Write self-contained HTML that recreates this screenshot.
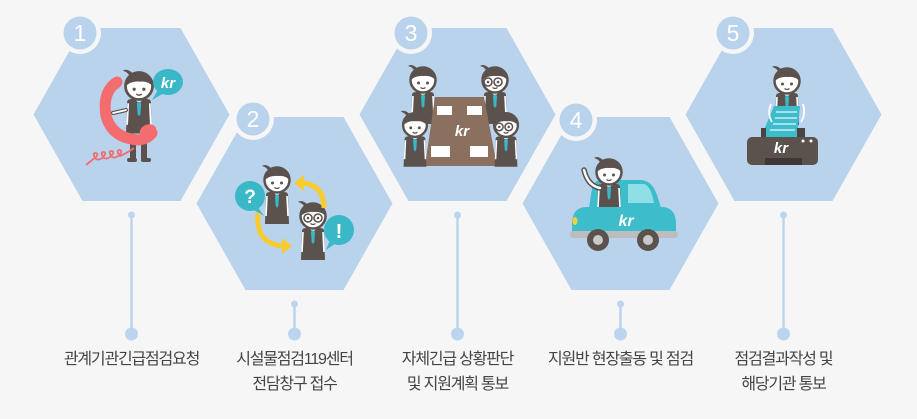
<!DOCTYPE html>
<html><head><meta charset="utf-8">
<style>
html,body{margin:0;padding:0;background:#f6f6f6;}
svg{display:block;}
.lbl{font-family:"Liberation Sans","Noto Sans CJK KR",sans-serif;font-size:16px;fill:#444444;letter-spacing:-1.2px;}
.num{font-family:"Liberation Sans","DejaVu Sans",sans-serif;font-size:23px;fill:#ffffff;}
.kr{font-family:"Liberation Sans",sans-serif;font-weight:bold;font-style:italic;fill:#ffffff;}
</style></head>
<body>
<svg width="917" height="419" viewBox="0 0 917 419" xmlns="http://www.w3.org/2000/svg">
<defs>
  <g id="person">
    <path d="M-11,15 Q-11,12 -7,12 L7,12 Q11,12 11,15 L12,44 L-12,44 Z" fill="#5b524e"/>
    <path d="M-10,16 L-11,36" stroke="#fff" stroke-width="1.6" fill="none"/>
    <path d="M10,16 L11,36" stroke="#fff" stroke-width="1.6" fill="none"/>
    <path d="M-4,12 L0,16 L4,12 Z" fill="#fff"/>
    <path d="M0,14 L-2,16 L-1.3,26 L0,28 L1.3,26 L2,16 Z" fill="#3bb8c8"/>
    <circle cx="0" cy="0" r="12.5" fill="#fff" stroke="#5b524e" stroke-width="2.5"/>
    <path d="M-13,1 A13,13 0 0 1 13,1 Q9,-5 1,-4 Q-8,-5 -13,1 Z" fill="#5b524e"/>
    <path d="M-5,-11 Q-11,-17 -15,-14 Q-10,-13 -8,-8 Z" fill="#5b524e"/>
    <circle cx="-4.5" cy="3" r="1.5" fill="#5b524e"/>
    <circle cx="4.5" cy="3" r="1.5" fill="#5b524e"/>
    <path d="M-2.5,7.5 Q0,9.5 2.5,7.5" stroke="#5b524e" stroke-width="1.3" fill="none"/>
  </g>
  <g id="glasses">
    <circle cx="-5" cy="2" r="4" fill="#fff" stroke="#5b524e" stroke-width="1.6"/>
    <circle cx="5" cy="2" r="4" fill="#fff" stroke="#5b524e" stroke-width="1.6"/>
    <circle cx="-5" cy="2" r="1.3" fill="#5b524e"/>
    <circle cx="5" cy="2" r="1.3" fill="#5b524e"/>
  </g>
</defs>

<!-- hexagons -->
<g fill="#b9d3ec">
  <polygon points="33.5,114.5 82.5,28 180.5,28 229.5,114.5 180.5,201 82.5,201"/>
  <polygon points="196.5,203.5 245.5,117 343.5,117 392.5,203.5 343.5,290 245.5,290"/>
  <polygon points="359.5,114.5 408.5,28 506.5,28 555.5,114.5 506.5,201 408.5,201"/>
  <polygon points="522.5,203.5 571.5,117 669.5,117 718.5,203.5 669.5,290 571.5,290"/>
  <polygon points="685.5,114.5 734.5,28 832.5,28 881.5,114.5 832.5,201 734.5,201"/>
</g>

<!-- number badges -->
<g>
  <circle cx="80" cy="33" r="21" fill="#f6f6f6"/><circle cx="80" cy="33" r="16.5" fill="#b9d3ec"/>
  <text class="num" x="80" y="41" text-anchor="middle">1</text>
  <circle cx="253" cy="119" r="21" fill="#f6f6f6"/><circle cx="253" cy="119" r="16.5" fill="#b9d3ec"/>
  <text class="num" x="253" y="127" text-anchor="middle">2</text>
  <circle cx="411" cy="33" r="21" fill="#f6f6f6"/><circle cx="411" cy="33" r="16.5" fill="#b9d3ec"/>
  <text class="num" x="411" y="41" text-anchor="middle">3</text>
  <circle cx="576" cy="120" r="21" fill="#f6f6f6"/><circle cx="576" cy="120" r="16.5" fill="#b9d3ec"/>
  <text class="num" x="576" y="128" text-anchor="middle">4</text>
  <circle cx="733" cy="33" r="21" fill="#f6f6f6"/><circle cx="733" cy="33" r="16.5" fill="#b9d3ec"/>
  <text class="num" x="733" y="41" text-anchor="middle">5</text>
</g>

<!-- connectors -->
<g stroke="#bcd5ee" stroke-width="2.5" fill="#bcd5ee">
  <line x1="131.5" y1="215" x2="131.5" y2="334"/>
  <line x1="294.5" y1="304" x2="294.5" y2="334"/>
  <line x1="457.5" y1="215" x2="457.5" y2="334"/>
  <line x1="620.5" y1="304" x2="620.5" y2="334"/>
  <line x1="783.5" y1="215" x2="783.5" y2="334"/>
</g>
<g fill="#bcd5ee">
  <circle cx="131.5" cy="215" r="3.5"/><circle cx="131.5" cy="334" r="6.5"/>
  <circle cx="294.5" cy="304" r="3.5"/><circle cx="294.5" cy="334" r="6.5"/>
  <circle cx="457.5" cy="215" r="3.5"/><circle cx="457.5" cy="334" r="6.5"/>
  <circle cx="620.5" cy="304" r="3.5"/><circle cx="620.5" cy="334" r="6.5"/>
  <circle cx="783.5" cy="215" r="3.5"/><circle cx="783.5" cy="334" r="6.5"/>
</g>

<!-- labels -->
<text class="lbl" x="131.5" y="364" text-anchor="middle">관계기관긴급점검요청</text>
<text class="lbl" x="294.5" y="364" text-anchor="middle">시설물점검119센터</text>
<text class="lbl" x="294.5" y="389" text-anchor="middle">전담창구 접수</text>
<text class="lbl" x="457.5" y="364" text-anchor="middle">자체긴급 상황판단</text>
<text class="lbl" x="457.5" y="389" text-anchor="middle">및 지원계획 통보</text>
<text class="lbl" x="620.5" y="364" text-anchor="middle">지원반 현장출동 및 점검</text>
<text class="lbl" x="783.5" y="364" text-anchor="middle">점검결과작성 및</text>
<text class="lbl" x="783.5" y="389" text-anchor="middle">해당기관 통보</text>

<!-- HEX 1: phone -->
<g>
  <rect x="130" y="138" width="6" height="22" fill="#5b524e"/>
  <rect x="141" y="138" width="6" height="22" fill="#5b524e"/>
  <rect x="127" y="158" width="10" height="4" rx="2" fill="#5b524e"/>
  <rect x="141" y="158" width="10" height="4" rx="2" fill="#5b524e"/>
  <use href="#person" transform="translate(139,86) scale(1.08)"/>
  <path d="M126,110 Q118,112 113,113" stroke="#5b524e" stroke-width="4" fill="none" stroke-linecap="round"/>
  <path d="M126,110 Q118,112 113,113" stroke="#fff" stroke-width="1.8" fill="none" stroke-linecap="round"/>
  <path d="M117,82 Q102,92 106,116 Q112,138 138,140 Q148,139 152,133" stroke="#f26c70" stroke-width="11" fill="none" stroke-linecap="round"/>
  <ellipse cx="115" cy="84" rx="7" ry="5.5" fill="#f26c70" transform="rotate(-35 115 84)"/>
  <ellipse cx="148" cy="131" rx="8.5" ry="6.5" fill="#f26c70" transform="rotate(-20 148 131)"/>
  <path d="M86,165 Q92,160 96,157 q3,-4 -1,-4 q-3,1 1,6 q4,2 8,-3 q3,-4 -1,-4 q-3,1 1,6 q4,2 8,-3 q3,-4 -1,-4 q-3,1 1,6 q4,2 8,-3 q3,-4 -1,-4 q-3,1 1,6 Q127,153 134,148" stroke="#f26c70" stroke-width="1.8" fill="none"/>
  <ellipse cx="168" cy="82" rx="15" ry="13" fill="#3bb8c8"/>
  <path d="M158,90 L152,100 L164,93 Z" fill="#3bb8c8"/>
  <text class="kr" x="168" y="88" font-size="15" text-anchor="middle">kr</text>
</g>

<!-- HEX 2 -->
<g>
  <use href="#person" transform="translate(277,180)"/>
  <use href="#person" transform="translate(313,216)"/>
  <use href="#glasses" transform="translate(313,216)"/>
  <circle cx="250" cy="196" r="15" fill="#3bb8c8"/>
  <path d="M257,206 L264,216 L252,209 Z" fill="#3bb8c8"/>
  <text class="kr" x="250" y="203" font-size="19" style="font-style:normal" text-anchor="middle">?</text>
  <circle cx="339" cy="230" r="15" fill="#3bb8c8"/>
  <path d="M330,240 L326,250 L336,243 Z" fill="#3bb8c8"/>
  <text class="kr" x="339" y="238" font-size="20" style="font-style:normal" text-anchor="middle">!</text>
  <path d="M324,208 Q324,186 304,183" stroke="#f8cb2e" stroke-width="5" fill="none"/>
  <polygon points="294,183 304,175 304,191" fill="#f8cb2e"/>
  <path d="M258,213 Q255,243 282,246" stroke="#f8cb2e" stroke-width="5" fill="none"/>
  <polygon points="292,246 282,238 282,254" fill="#f8cb2e"/>
</g>

<!-- HEX 3: meeting -->
<g>
  <use href="#person" transform="translate(423,80)"/>
  <use href="#person" transform="translate(495,80)"/>
  <use href="#glasses" transform="translate(493,80)"/>
  <polygon points="435,97 484,97 497,166 425,166" fill="#8b705f"/>
  <rect x="437" y="106" width="15" height="9" fill="#fff"/>
  <rect x="467" y="106" width="15" height="9" fill="#fff"/>
  <rect x="431" y="146" width="19" height="11" fill="#fff"/>
  <rect x="470" y="146" width="18" height="11" fill="#fff"/>
  <text class="kr" x="462" y="136" font-size="15" text-anchor="middle">kr</text>
  <g transform="translate(415,125)">
    <use href="#person" transform="scale(0.95)"/>
  </g>
  <g transform="translate(506,125)">
    <use href="#person" transform="scale(0.95)"/>
    <use href="#glasses" transform="translate(-2,0) scale(0.95)"/>
  </g>
</g>

<!-- HEX 4: car -->
<g>
  <path d="M589,208 L592,188 Q594,180 602,180 L640,180 Q652,180 657,195 L661,208 Z" fill="#3dbccb"/>
  <path d="M628,184 L644,184 Q651,186 654,203 L628,203 Z" fill="#8fdfe6"/>
  <use href="#person" transform="translate(609,172)"/>
  <path d="M600,188 Q588,186 584,170" stroke="#5b524e" stroke-width="5.5" fill="none" stroke-linecap="round"/>
  <path d="M600,188 Q588,186 584,170" stroke="#fff" stroke-width="2.5" fill="none" stroke-linecap="round"/>
  <path d="M572,224 Q572,207 587,207 L664,207 Q676,209 676,224 L676,234 L572,234 Z" fill="#3dbccb"/>
  <rect x="570" y="231" width="108" height="7" rx="3.5" fill="#bdbdbd"/>
  <circle cx="598" cy="240" r="11" fill="#5b524e"/><circle cx="598" cy="240" r="5" fill="#c9c9c9"/>
  <circle cx="648" cy="240" r="11" fill="#5b524e"/><circle cx="648" cy="240" r="5" fill="#c9c9c9"/>
  <ellipse cx="575" cy="221" rx="2.5" ry="4" fill="#f4cf3c"/>
  <text class="kr" x="626" y="226" font-size="16" text-anchor="middle">kr</text>
</g>

<!-- HEX 5: printer -->
<g>
  <use href="#person" transform="translate(787,81)"/>
  <path d="M774,106 L800,106 L797,137 L761,137 Z" fill="#3dbccb"/>
  <g stroke="#e6f8fa" stroke-width="1.3">
    <line x1="776" y1="112" x2="797" y2="112"/>
    <line x1="775" y1="118" x2="797" y2="118"/>
    <line x1="773" y1="124" x2="796" y2="124"/>
    <line x1="770" y1="130" x2="795" y2="130"/>
  </g>
  <path d="M771,104 Q767,114 772,122" stroke="#fff" stroke-width="1.8" fill="none"/>
  <path d="M803,104 Q806,114 801,122" stroke="#fff" stroke-width="1.8" fill="none"/>
  <rect x="761" y="128" width="5" height="10" fill="#4a4340"/>
  <rect x="797" y="128" width="8" height="10" fill="#4a4340"/>
  <rect x="747" y="137" width="71" height="28" rx="5" fill="#5b524e"/>
  <rect x="765" y="158" width="37" height="7" fill="#3e3835"/>
  <circle cx="803" cy="141" r="1.5" fill="#fff"/>
  <circle cx="811" cy="141" r="1.5" fill="#fff"/>
  <text class="kr" x="781" y="153" font-size="15" text-anchor="middle">kr</text>
</g>
</svg>
</body></html>
